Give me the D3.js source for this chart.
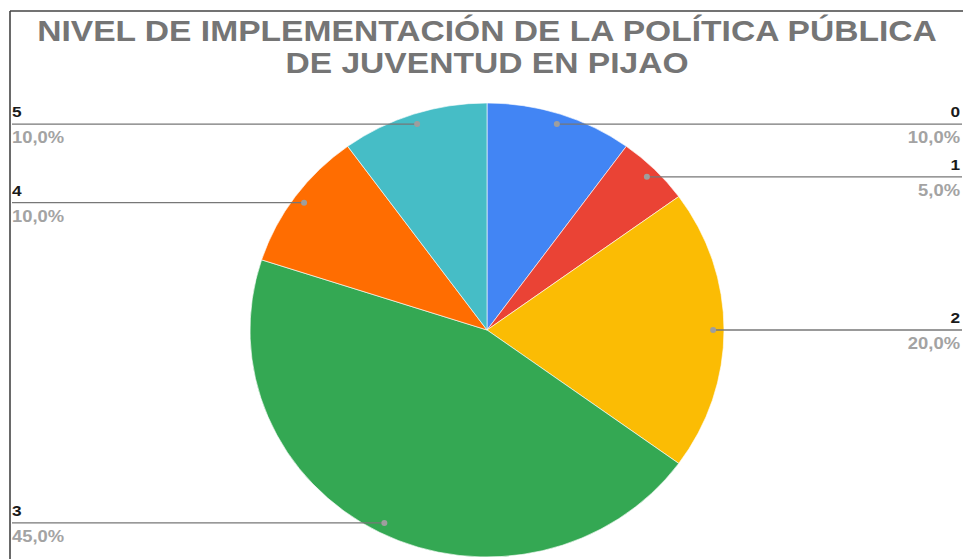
<!DOCTYPE html>
<html>
<head>
<meta charset="utf-8">
<script src="https://cdn.jsdelivr.net/npm/d3@7"></script>
<style>
  html, body { margin: 0; padding: 0; background: #fff; }
  svg { display: block; }
  text { font-family: "Liberation Sans", Arial, sans-serif; }
</style>
</head>
<body>
<svg id="chart" width="963" height="559"></svg>
<script>
const titleLines = ["NIVEL DE IMPLEMENTACIÓN DE LA POLÍTICA PÚBLICA", "DE JUVENTUD EN PIJAO"];
const categories = ["0", "1", "2", "3", "4", "5"];
const values = [10, 5, 20, 45, 10, 10];
const colors = ["#4285f4", "#ea4335", "#fbbc04", "#34a853", "#ff6d01", "#46bdc6"];

const W = 963, H = 559;
const cx = 487, cy = 330, ry = 227, rx = 237;
const textStretch = 1.15;
const svg = d3.select("#chart");

// frame
svg.append("line").attr("x1", 10).attr("y1", 11).attr("x2", W).attr("y2", 11)
  .attr("stroke", "#444").attr("stroke-width", 1.6);
svg.append("line").attr("x1", 10).attr("y1", 11).attr("x2", 10).attr("y2", H)
  .attr("stroke", "#444").attr("stroke-width", 1.6);

// title
const title = svg.append("g");
const tNodes = titleLines.map((t, i) => title.append("text")
    .attr("x", 0).attr("y", 0)
    .attr("text-anchor", "middle")
    .attr("font-weight", "bold")
    .attr("font-size", 30)
    .attr("fill", "#757575")
    .text(t));
const firstLen = tNodes[0].node().getComputedTextLength();
const tsx = 900 / firstLen;
tNodes.forEach((n, i) => n.attr("transform", `translate(${cx},${41 + i * 32}) scale(${tsx},1)`));

// pie
const pie = d3.pie().sort(null).value(d => d.v);
const data = pie(categories.map((c, i) => ({ c, v: values[i], col: colors[i] })));
const total = d3.sum(values);
const arc = d3.arc().innerRadius(0).outerRadius(ry);
const sx = rx / ry;

const g = svg.append("g").attr("transform", `translate(${cx},${cy}) scale(${sx},1)`);
g.selectAll("path").data(data).join("path")
  .attr("d", arc)
  .attr("fill", d => d.data.col)
  .attr("stroke", "#fff")
  .attr("stroke-width", 0.6);

// labels
const fmt = v => d3.format(".1f")(v / total * 100).replace(".", ",") + "%";
const dotR = ry * 0.954;
data.forEach(d => {
  const a = (d.startAngle + d.endAngle) / 2;
  const x = cx + Math.sin(a) * dotR * sx;
  const y = cy - Math.cos(a) * dotR;
  const left = a > Math.PI;
  const xEnd = left ? 12 : 962;
  svg.append("line")
    .attr("x1", x).attr("y1", y).attr("x2", xEnd).attr("y2", y)
    .attr("stroke", "#777").attr("stroke-width", 1.3);
  svg.append("circle").attr("cx", x).attr("cy", y).attr("r", 3).attr("fill", "#9e9e9e");
  const tx = left ? 12 : 960;
  const anchor = left ? "start" : "end";
  svg.append("text")
    .attr("transform", `translate(${tx},${y - 7}) scale(${textStretch},1)`)
    .attr("text-anchor", anchor)
    .attr("font-weight", "bold").attr("font-size", 15)
    .attr("fill", "#1a1a1a")
    .text(d.data.c);
  svg.append("text")
    .attr("transform", `translate(${tx},${y + 19}) scale(${textStretch},1)`)
    .attr("text-anchor", anchor)
    .attr("font-weight", "bold").attr("font-size", 16)
    .attr("fill", "#a3a3a3")
    .text(fmt(d.data.v));
});
</script>
</body>
</html>
